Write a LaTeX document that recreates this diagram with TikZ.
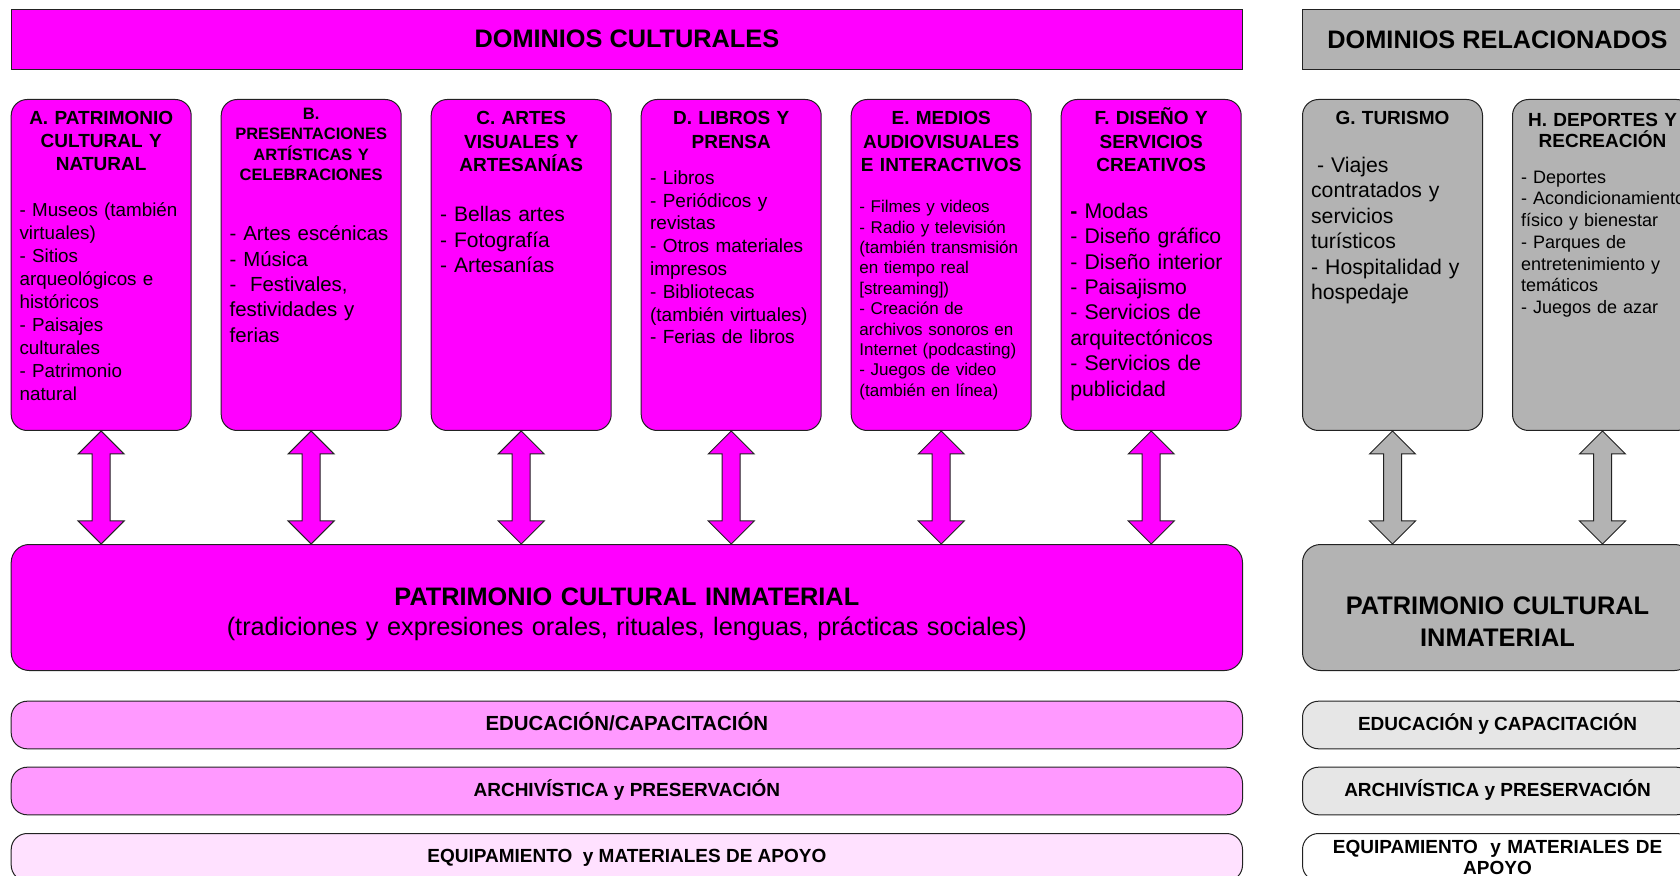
\documentclass[tikz,border=0pt]{standalone}
\usepackage{fontspec}
\setmainfont{Liberation Sans}
\usepackage{tikz}
\usetikzlibrary{calc}

\definecolor{mag}{HTML}{FF00FF}
\definecolor{rosa}{HTML}{FF99FF}
\definecolor{rosaclaro}{HTML}{FFE1FF}
\definecolor{gris}{HTML}{B3B3B3}
\definecolor{grisclaro}{HTML}{E6E6E6}
\definecolor{edge}{HTML}{222222}

\tikzset{
  shapebox/.style={draw=edge, line width=0.5pt, anchor=north west, inner sep=0pt},
  dombox/.style={shapebox, rounded corners=8pt, minimum width=90pt, minimum height=165.5pt},
  bannerbox/.style={shapebox, minimum height=30pt},
  bigbox/.style={shapebox, rounded corners=9pt, minimum height=63pt},
  barbox/.style={shapebox, rounded corners=8pt, minimum height=23.8pt, font=\fontsize{9.5}{10.7}\selectfont\bfseries},
  bartxt/.style={text height=5pt, text depth=0pt},
  txt/.style={inner sep=0pt},
  titletxt/.style={txt, anchor=base, font=\fontsize{12.65}{15}\selectfont\bfseries},
  headtxt/.style 2 args={txt, anchor=base, text width=90pt, align=center, font=\fontsize{#1}{#2}\selectfont\bfseries},
  bodytxt/.style 2 args={txt, anchor=base west, text width=100pt, align=left, font=\fontsize{#1}{#2}\selectfont},
  linkline/.style={draw=edge, line width=0.5pt},
}

% double block arrow between two boxes
\newcommand{\linkarrow}[3]{%
  \draw[linkline, fill=#3] let \p1=(#1.south), \p2=(#1.south |- #2.north) in
    (\x1,\y1) -- ++(11.5pt,-11.5pt) -- ++(-7pt,0pt) -- (\x1+4.5pt,\y2+11.5pt)
    -- ++(7pt,0pt) -- (\x1,\y2) -- ++(-11.5pt,11.5pt) -- ++(7pt,0pt)
    -- (\x1-4.5pt,\y1-11.5pt) -- ++(-7pt,0pt) -- cycle;}

\begin{document}
\begin{tikzpicture}[x=0.5pt,y=-0.5pt]
    \useasboundingbox (0,0) rectangle (1680,876);
    \clip (0,0) rectangle (1680,876);

    \node[bannerbox, fill=mag, minimum width=615.65pt] (dc) at (10.7,9) {};
    \node[bannerbox, fill=gris, minimum width=195pt] (dr) at (1302,9) {};
    \node[titletxt] (dctxt) at ($(dc.north)+(0,39)$) {DOMINIOS CULTURALES};
    \node[titletxt] (drtxt) at ($(dr.north)+(0,40)$) {DOMINIOS RELACIONADOS};

    \foreach \id [count=\i from 0] in {A,B,C,D,E,F}
        \node[dombox, fill=mag] (\id) at (10.7+210*\i,99) {};
    \node[dombox, fill=gris] (G) at (1302,99) {};
    \node[dombox, fill=gris] (H) at (1512,99) {};

    \node[bigbox, fill=mag, minimum width=615.65pt] (pci) at (10.7,544) {};
    \node[bigbox, fill=gris, minimum width=195pt] (pcig) at (1302,544) {};

    \foreach \id in {A,B,C,D,E,F} {\linkarrow{\id}{pci}{mag}}
    \foreach \id in {G,H} {\linkarrow{\id}{pcig}{gris}}

    % box texts
    \node[headtxt={9.5}{11.5}] (Ahead) at ($(A.north)+(0,26)$) {A. PATRIMONIO\\CULTURAL Y\\NATURAL};
    \node[bodytxt={9.4}{11.45}] (Abody) at ($(A.north west)+(8.5,118)$) {- Museos (también\\virtuales)\\- Sitios\\arqueológicos e\\históricos\\- Paisajes\\culturales\\- Patrimonio\\natural};

    \node[headtxt={8.25}{10.25}] (Bhead) at ($(B.north)+(0,20.3)$) {B.\\PRESENTACIONES\\ARTÍSTICAS Y\\CELEBRACIONES};
    \node[bodytxt={10.2}{12.7}] (Bbody) at ($(B.north west)+(8.6,141.7)$) {- Artes escénicas\\- Música\\-\ \ Festivales,\\festividades y\\ferias};

    \node[headtxt={9.5}{11.6}] (Chead) at ($(C.north)+(0,26)$) {C. ARTES\\VISUALES Y\\ARTESANÍAS};
    \node[bodytxt={10.5}{12.7}] (Cbody) at ($(C.north west)+(9,122.7)$) {- Bellas artes\\- Fotografía\\- Artesanías};

    \node[headtxt={9.5}{11.6}] (Dhead) at ($(D.north)+(0,26)$) {D. LIBROS Y\\PRENSA};
    \node[bodytxt={9.5}{11.4}] (Dbody) at ($(D.north west)+(9,85.3)$) {- Libros\\- Periódicos y\\revistas\\- Otros materiales\\impresos\\- Bibliotecas\\(también virtuales)\\- Ferias de libros};

    \node[headtxt={9.5}{11.6}] (Ehead) at ($(E.north)+(0,26)$) {E. MEDIOS\\AUDIOVISUALES\\E INTERACTIVOS};
    \node[bodytxt={8.5}{10.2}] (Ebody) at ($(E.north west)+(8.3,113.7)$) {- Filmes y videos\\- Radio y televisión\\(también transmisión\\en tiempo real\\{}[streaming])\\- Creación de\\archivos sonoros en\\Internet (podcasting)\\- Juegos de video\\(también en línea)};

    \node[headtxt={9.5}{11.6}] (Fhead) at ($(F.north)+(0,26)$) {F. DISEÑO Y\\SERVICIOS\\CREATIVOS};
    \node[bodytxt={10.6}{12.7}] (Fbody) at ($(F.north west)+(9.3,119.3)$) {\textbf{-} Modas\\- Diseño gráfico\\- Diseño interior\\- Paisajismo\\- Servicios de\\arquitectónicos\\- Servicios de\\publicidad};

    \node[headtxt={9.5}{11.6}] (Ghead) at ($(G.north)+(0,26)$) {G. TURISMO};
    \node[bodytxt={10.6}{12.75}] (Gbody) at ($(G.north west)+(8.7,73.3)$) {\hspace*{0.28em}- Viajes\\contratados y\\servicios\\turísticos\\- Hospitalidad y\\hospedaje};

    \node[headtxt={9.5}{10.5}] (Hhead) at ($(H.north)+(0,27.7)$) {H. DEPORTES Y\\RECREACIÓN};
    \node[bodytxt={9}{10.85}] (Hbody) at ($(H.north west)+(8.7,84.3)$) {- Deportes\\- Acondicionamiento\\físico y bienestar\\- Parques de\\entretenimiento y\\temáticos\\- Juegos de azar};

    \node[txt, anchor=base, text width=600pt, align=center, font=\fontsize{12.65}{15}\selectfont] (pcitxt) at ($(pci.north)+(0,61)$) {\textbf{PATRIMONIO CULTURAL INMATERIAL}\\(tradiciones y expresiones orales, rituales, lenguas, prácticas sociales)};
    \node[txt, anchor=base, text width=190pt, align=center, font=\fontsize{12.7}{15.85}\selectfont\bfseries] (pcigtxt) at ($(pcig.north)+(0,70.5)$) {PATRIMONIO CULTURAL\\INMATERIAL};

    % bars
    \node[barbox, bartxt, fill=rosa, minimum width=615.65pt, font=\fontsize{10.2}{12}\selectfont\bfseries] (edu) at (10.7,700.7) {EDUCACIÓN/CAPACITACIÓN};
    \node[barbox, bartxt, fill=rosa, minimum width=615.65pt] (arc) at (10.7,766.7) {ARCHIVÍSTICA y PRESERVACIÓN};
    \node[barbox, bartxt, fill=rosaclaro, minimum width=615.65pt] (equ) at (10.7,833) {EQUIPAMIENTO\ \ y MATERIALES DE APOYO};
    \node[barbox, bartxt, fill=grisclaro, minimum width=195pt] (edug) at (1302,700.7) {EDUCACIÓN y CAPACITACIÓN};
    \node[barbox, bartxt, fill=grisclaro, minimum width=195pt] (arcg) at (1302,766.7) {ARCHIVÍSTICA y PRESERVACIÓN};
    \node[barbox, fill=white, minimum width=195pt, text width=190pt, align=center] (equg) at (1302,833) {EQUIPAMIENTO\ \ y MATERIALES DE\\APOYO};

\end{tikzpicture}
\end{document}
